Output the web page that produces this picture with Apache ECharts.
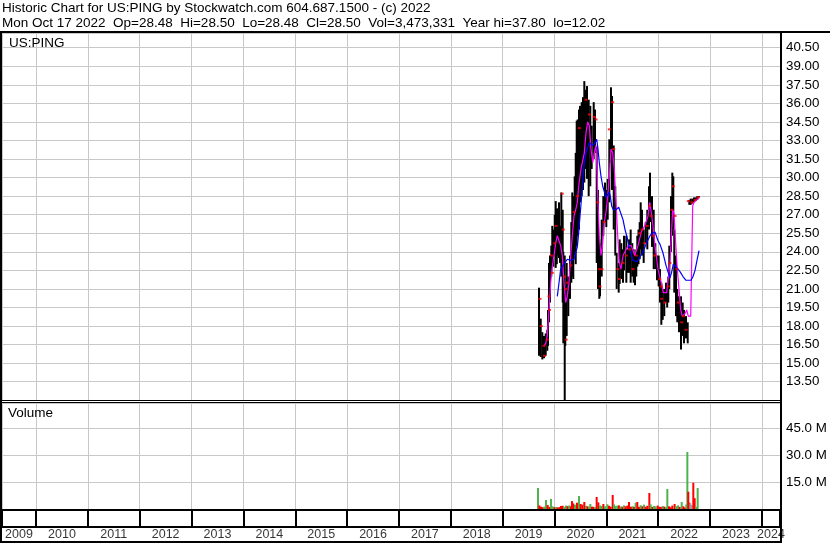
<!DOCTYPE html>
<html><head><meta charset="utf-8">
<script src="https://cdn.jsdelivr.net/npm/echarts@6/dist/echarts.min.js"></script>
<style>html,body{margin:0;padding:0;background:#fff}#c{width:830px;height:543px}</style>
</head><body><div id="c"></div>
<script>
// ---------- DATA (dates as decimal years) ----------
const titleLine1 = 'Historic Chart for US:PING by Stockwatch.com 604.687.1500 - (c) 2022';
const titleLine2 = 'Mon Oct 17 2022  Op=28.48  Hi=28.50  Lo=28.48  Cl=28.50  Vol=3,473,331  Year hi=37.80  lo=12.02';
const symbolLabel = 'US:PING';
const volumeLabel = 'Volume';
const yearLabels = [2009,2010,2011,2012,2013,2014,2015,2016,2017,2018,2019,2020,2021,2022,2023,2024];

const barDates = [2019.701,2019.734,2019.765,2019.797,2019.830,2019.861,2019.874,2019.894,2019.913,2019.938,2019.957,2019.977,2020.004,2020.023,2020.044,2020.067,2020.087,2020.106,2020.131,2020.158,2020.170,2020.197,2020.208,2020.235,2020.266,2020.299,2020.324,2020.343,2020.362,2020.389,2020.409,2020.428,2020.447,2020.472,2020.492,2020.524,2020.550,2020.575,2020.594,2020.627,2020.659,2020.690,2020.717,2020.756,2020.781,2020.814,2020.839,2020.864,2020.877,2020.910,2020.941,2020.974,2020.999,2021.026,2021.057,2021.089,2021.109,2021.142,2021.172,2021.199,2021.238,2021.257,2021.288,2021.321,2021.340,2021.385,2021.404,2021.437,2021.469,2021.500,2021.527,2021.552,2021.577,2021.597,2021.620,2021.643,2021.662,2021.687,2021.720,2021.759,2021.790,2021.822,2021.842,2021.880,2021.913,2021.944,2021.977,2022.009,2022.035,2022.060,2022.087,2022.117,2022.150,2022.173,2022.195,2022.214,2022.247,2022.272,2022.291,2022.310,2022.343,2022.368,2022.401,2022.440,2022.472,2022.497,2022.536,2022.569,2022.600,2022.627,2022.658,2022.690,2022.723,2022.754,2022.787];
const barHigh = [21.1,18.6,17.5,17.2,17.4,17.7,19.3,23.1,23.7,24.5,26.1,25.8,27.0,28.1,27.5,27.5,28.0,26.1,28.8,27.4,24.0,23.7,21.2,23.1,22.0,23.7,26.4,28.8,28.5,30.1,32.0,34.6,34.7,35.5,35.8,36.1,36.5,37.8,37.1,37.4,36.3,35.8,34.2,36.1,35.5,32.5,29.0,25.0,24.7,26.6,28.5,29.6,29.0,29.9,33.1,37.3,36.6,32.6,29.3,23.9,23.1,25.0,24.7,24.2,25.3,25.3,24.2,25.0,25.8,24.7,24.2,23.7,24.2,25.3,25.8,26.4,28.0,27.4,25.8,26.4,27.4,29.3,30.4,28.5,27.4,24.7,23.7,23.7,22.6,21.5,21.0,21.0,21.5,21.5,22.0,24.5,28.5,30.4,30.1,25.8,23.7,21.0,20.4,20.4,19.9,19.3,18.8,18.3,28.2,28.3,28.3,28.4,28.4,28.5,28.5];
const barLow = [15.6,15.5,15.3,15.4,15.6,16.0,16.4,18.3,19.9,22.0,23.1,22.8,23.7,22.7,23.0,23.7,23.5,23.1,22.0,19.9,16.6,12.02,16.4,17.2,18.8,20.2,21.5,22.0,21.8,23.7,23.0,24.5,25.3,25.8,28.0,28.5,29.0,29.6,30.7,29.9,28.5,29.3,30.7,31.5,32.0,23.1,21.0,20.2,20.4,22.0,25.3,26.4,26.0,26.6,28.0,31.2,29.0,25.8,23.7,21.0,20.7,21.4,21.8,21.5,22.5,21.5,22.3,22.3,21.5,22.0,21.5,21.3,22.0,22.8,23.0,23.4,24.2,23.7,23.1,24.7,24.2,25.8,26.4,24.4,22.6,22.6,21.7,21.2,19.9,18.1,18.5,18.8,19.9,19.5,19.9,21.0,24.0,25.3,25.8,20.7,18.8,18.3,17.5,16.1,17.2,16.6,17.0,16.6,27.8,27.8,27.9,28.0,28.1,28.2,28.45];

const closeDates = [2019.720,2019.745,2019.797,2019.807,2019.861,2019.894,2019.903,2019.938,2019.957,2020.004,2020.029,2020.150,2020.170,2020.197,2020.216,2020.225,2020.247,2020.312,2020.376,2020.440,2020.478,2020.607,2020.671,2020.767,2020.800,2020.833,2020.864,2020.877,2020.916,2020.960,2021.057,2021.122,2021.142,2021.219,2021.250,2021.321,2021.385,2021.450,2021.514,2021.577,2021.643,2021.687,2021.739,2021.790,2021.836,2021.867,2021.899,2021.932,2022.029,2022.060,2022.067,2022.131,2022.195,2022.227,2022.260,2022.291,2022.324,2022.357,2022.387,2022.453,2022.484,2022.536,2022.580,2022.646,2022.710,2022.773];
const closeValues = [20.2,18.0,16.4,15.6,16.9,20.4,19.3,23.7,22.3,24.7,26.1,28.7,25.8,22.0,21.0,16.9,21.5,22.9,27.2,28.5,34.0,36.3,35.1,34.9,34.7,28.0,22.6,21.2,22.6,26.4,33.9,36.1,32.3,22.6,21.8,23.1,23.7,24.2,22.6,23.7,25.5,25.8,24.7,26.1,27.7,26.9,25.3,23.7,21.8,21.2,20.2,19.9,21.2,23.1,27.4,29.3,26.9,22.6,19.9,18.3,18.8,17.7,28.1,28.0,28.2,28.4];

const shortAvgDates = [2019.797,2019.830,2019.861,2019.894,2019.926,2019.957,2019.990,2020.023,2020.054,2020.087,2020.119,2020.150,2020.183,2020.216,2020.247,2020.279,2020.312,2020.343,2020.376,2020.409,2020.440,2020.466,2020.511,2020.575,2020.607,2020.640,2020.671,2020.704,2020.737,2020.767,2020.800,2020.819,2020.839,2020.864,2020.897,2020.930,2020.960,2020.993,2021.026,2021.057,2021.089,2021.122,2021.153,2021.186,2021.219,2021.250,2021.282,2021.321,2021.385,2021.418,2021.481,2021.547,2021.577,2021.610,2021.674,2021.739,2021.803,2021.836,2021.867,2021.899,2021.932,2021.963,2021.996,2022.029,2022.060,2022.098,2022.164,2022.227,2022.279,2022.304,2022.337,2022.368,2022.401,2022.434,2022.464,2022.516,2022.549,2022.580,2022.627,2022.652,2022.665,2022.690,2022.742,2022.792];
const shortAvgValues = [16.4,16.6,17.2,19.3,21.5,22.8,23.7,24.7,25.3,25.3,24.5,23.7,21.5,19.9,20.4,21.5,23.7,25.3,26.9,27.4,28.0,29.3,30.7,32.0,33.6,34.5,34.2,32.3,31.2,32.0,32.6,30.7,28.0,25.3,23.7,24.7,26.4,27.2,28.5,30.1,32.3,32.0,30.7,28.0,25.3,23.1,22.6,23.7,24.2,24.5,24.5,23.7,23.7,24.5,25.6,26.1,26.9,28.0,27.2,26.1,24.7,23.7,22.6,22.0,21.5,20.7,20.7,23.1,27.4,27.1,24.7,22.6,21.0,19.3,18.8,19.0,19.3,18.8,18.8,18.8,27.7,28.0,28.2,28.4];

const longAvgDates = [2020.054,2020.087,2020.119,2020.150,2020.183,2020.247,2020.312,2020.376,2020.440,2020.466,2020.492,2020.524,2020.550,2020.575,2020.607,2020.671,2020.737,2020.781,2020.814,2020.839,2020.864,2020.897,2020.930,2020.993,2021.057,2021.076,2021.103,2021.134,2021.186,2021.238,2021.269,2021.321,2021.360,2021.398,2021.456,2021.514,2021.591,2021.649,2021.707,2021.784,2021.842,2021.880,2021.938,2021.996,2022.035,2022.093,2022.150,2022.195,2022.227,2022.256,2022.291,2022.324,2022.362,2022.420,2022.478,2022.536,2022.575,2022.633,2022.671,2022.710,2022.748,2022.787];
const longAvgValues = [20.4,21.5,22.6,22.8,22.8,23.4,23.3,23.4,24.4,25.5,26.9,28.5,30.1,31.2,32.0,32.8,32.6,32.8,33.1,32.3,31.2,30.1,29.3,28.4,28.8,28.5,27.7,27.4,27.4,27.6,27.5,26.6,25.8,25.2,24.1,23.3,23.2,23.6,24.0,24.8,25.3,25.5,25.6,24.9,24.6,23.9,22.9,22.3,21.9,22.3,23.0,23.0,22.7,22.4,22.0,21.7,21.7,21.7,22.0,22.5,23.3,24.1];

const volDates = [2019.682,2019.707,2019.739,2019.772,2019.804,2019.836,2019.868,2019.900,2019.932,2019.964,2019.997,2020.029,2020.061,2020.093,2020.125,2020.157,2020.189,2020.222,2020.254,2020.286,2020.318,2020.337,2020.363,2020.395,2020.434,2020.472,2020.504,2020.537,2020.575,2020.607,2020.639,2020.672,2020.691,2020.723,2020.749,2020.781,2020.813,2020.845,2020.877,2020.909,2020.942,2020.974,2021.019,2021.051,2021.083,2021.122,2021.147,2021.180,2021.212,2021.244,2021.276,2021.308,2021.340,2021.372,2021.404,2021.437,2021.475,2021.507,2021.533,2021.565,2021.597,2021.630,2021.662,2021.694,2021.726,2021.758,2021.790,2021.829,2021.854,2021.887,2021.919,2021.951,2021.990,2022.022,2022.054,2022.086,2022.118,2022.150,2022.176,2022.208,2022.240,2022.272,2022.317,2022.349,2022.382,2022.414,2022.453,2022.484,2022.517,2022.542,2022.562,2022.580,2022.600,2022.619,2022.645,2022.677,2022.703,2022.735,2022.761];
const volMillions = [11.7,2.0,1.3,1.0,1.3,5.0,2.2,1.2,5.6,1.5,1.0,1.1,0.9,1.0,1.7,1.8,1.2,1.9,1.6,2.0,1.5,4.4,3.1,2.4,3.5,7.2,2.8,2.4,3.9,1.8,1.5,1.2,2.8,1.3,1.2,1.0,6.7,3.7,2.0,1.7,2.8,1.5,2.6,1.8,1.3,7.8,2.6,1.7,1.9,2.0,1.4,1.3,2.0,1.5,1.9,3.9,1.3,1.5,1.2,3.5,3.9,1.2,2.1,1.5,2.4,1.3,1.8,8.9,2.6,1.2,1.7,1.5,1.9,1.3,1.1,1.7,1.3,1.0,11.1,1.5,1.0,1.9,2.8,1.5,2.0,1.2,3.9,1.5,0.9,2.5,31.7,9.6,3.5,3.0,2.2,14.6,6.0,1.2,11.7];
const volDir = ['u','d','d','d','u','u','d','d','u','u','d','u','d','d','d','d','u','u','d','u','d','d','d','u','d','u','d','d','d','u','d','u','u','d','d','u','d','d','u','u','d','u','u','d','d','d','u','u','u','d','u','d','u','d','d','d','d','u','d','u','d','d','u','d','u','d','d','d','u','d','u','u','d','d','d','u','d','u','u','d','d','d','d','u','u','d','u','d','d','u','u','d','d','n','n','d','d','u','u'];

// ---------- CHART ----------
const xMin = 2009.344, xMax = 2024.349;
const font = "'Liberation Sans', Arial, sans-serif";
const gridGray = '#c8c8c8';
const dirColor = {u:'#4db34d', d:'#ff0000', n:'#a0a0a0'};

const chart = echarts.init(document.getElementById('c'), null, {renderer:'canvas'});

function xAxisFor(gi, split) {
  return {type:'value', gridIndex:gi, min:xMin, max:xMax, minInterval:1, maxInterval:1,
    axisLine:{show:false}, axisTick:{show:false}, axisLabel:{show:false},
    splitLine: split ? {show:true, lineStyle:split} : {show:false}};
}
const isMultiple = (v, step) => Math.abs(v/step - Math.round(v/step)) < 1e-6;

const yearLabelData = yearLabels.map(y => [(Math.max(y, xMin) + Math.min(y + 1, xMax)) / 2, 0.5, String(y)]);

const frame = [
  {x:0, y:31, w:830, h:2}, {x:0, y:31, w:2, h:512}, {x:780, y:31, w:2, h:512},
  {x:0, y:400, w:782, h:1}, {x:0, y:402, w:782, h:1},
  {x:0, y:509, w:782, h:2}, {x:0, y:526, w:782, h:2}, {x:0, y:541, w:782, h:2}
];
const titleStyle = {fontFamily:font, fontSize:13.5, fontWeight:'normal', color:'#000', lineHeight:14};

chart.setOption({
  animation:false,
  backgroundColor:'#fff',
  textStyle:{fontFamily:font},
  title:[
    {text:titleLine1, left:2, top:1, padding:0, textStyle:titleStyle},
    {text:titleLine2, left:2, top:16, padding:0, textStyle:titleStyle},
    {text:symbolLabel, left:9, top:36, padding:0, textStyle:titleStyle},
    {text:volumeLabel, left:8, top:406, padding:0, textStyle:titleStyle}
  ],
  grid:[
    {left:2, top:33, width:778, height:367, outerBoundsMode:'none'},
    {left:2, top:403, width:778, height:106, outerBoundsMode:'none'},
    {left:2, top:511, width:778, height:15, outerBoundsMode:'none'},
    {left:2, top:528, width:778, height:13, outerBoundsMode:'none'}
  ],
  xAxis:[
    xAxisFor(0, {color:gridGray, width:1}),
    xAxisFor(1, {color:gridGray, width:1}),
    xAxisFor(2, {color:'#000', width:2}),
    xAxisFor(3, null)
  ],
  yAxis:[
    {type:'value', gridIndex:0, position:'right', min:12.02, max:41.69, minInterval:1.5, maxInterval:1.5,
     axisLine:{show:false}, axisTick:{show:false},
     axisLabel:{margin:6, fontFamily:font, fontSize:13.33, color:'#000', formatter:v => isMultiple(v,1.5) ? v.toFixed(2) : ''},
     splitLine:{show:true, lineStyle:{color:gridGray, width:1}}},
    {type:'value', gridIndex:1, position:'right', min:0, max:58.9, minInterval:15, maxInterval:15,
     axisLine:{show:false}, axisTick:{show:false},
     axisLabel:{margin:6, fontFamily:font, fontSize:13.33, color:'#000', formatter:v => (v > 0 && isMultiple(v,15)) ? v.toFixed(1) + ' M' : ''},
     splitLine:{show:true, lineStyle:{color:gridGray, width:1}}},
    {type:'value', gridIndex:2, min:0, max:1, show:false},
    {type:'value', gridIndex:3, min:0, max:1, show:false}
  ],
  graphic: frame.map(r => ({type:'rect', z:100, silent:true, shape:{x:r.x, y:r.y, width:r.w, height:r.h}, style:{fill:'#000'}})),
  series:[
    {type:'custom', xAxisIndex:0, yAxisIndex:0, z:2, clip:true,
     data: barDates.map((d,i) => [d, barLow[i], barHigh[i]]),
     encode:{x:0, y:[1,2]},
     renderItem:(params, api) => {
       const d = api.value(0);
       const top = api.coord([d, api.value(2)]);
       const bot = api.coord([d, api.value(1)]);
       return {type:'rect', shape:{x:top[0]-1, y:top[1], width:2, height:Math.max(1, bot[1]-top[1])}, style:{fill:'#000'}};
     }},
    {type:'line', xAxisIndex:0, yAxisIndex:0, z:3, showSymbol:false, symbol:'none',
     data: shortAvgDates.map((d,i) => [d, shortAvgValues[i]]),
     lineStyle:{color:'#ff00ff', width:1.2}},
    {type:'line', xAxisIndex:0, yAxisIndex:0, z:3, showSymbol:false, symbol:'none',
     data: longAvgDates.map((d,i) => [d, longAvgValues[i]]),
     lineStyle:{color:'#0000ff', width:1.2}},
    {type:'scatter', xAxisIndex:0, yAxisIndex:0, z:4, symbol:'rect', symbolSize:[3,2],
     data: closeDates.map((d,i) => [d, closeValues[i]]),
     itemStyle:{color:'#ff0000'}},
    {type:'bar', xAxisIndex:1, yAxisIndex:1, barWidth:2, z:2,
     data: volDates.map((d,i) => ({value:[d, volMillions[i]], itemStyle:{color:dirColor[volDir[i]]}}))},
    {type:'scatter', xAxisIndex:3, yAxisIndex:3, symbolSize:0, silent:true,
     data: yearLabelData,
     label:{show:true, position:'inside', formatter:p => p.data[2], fontFamily:font, fontSize:12.5, color:'#000'}}
  ]
});
</script>
</body></html>
